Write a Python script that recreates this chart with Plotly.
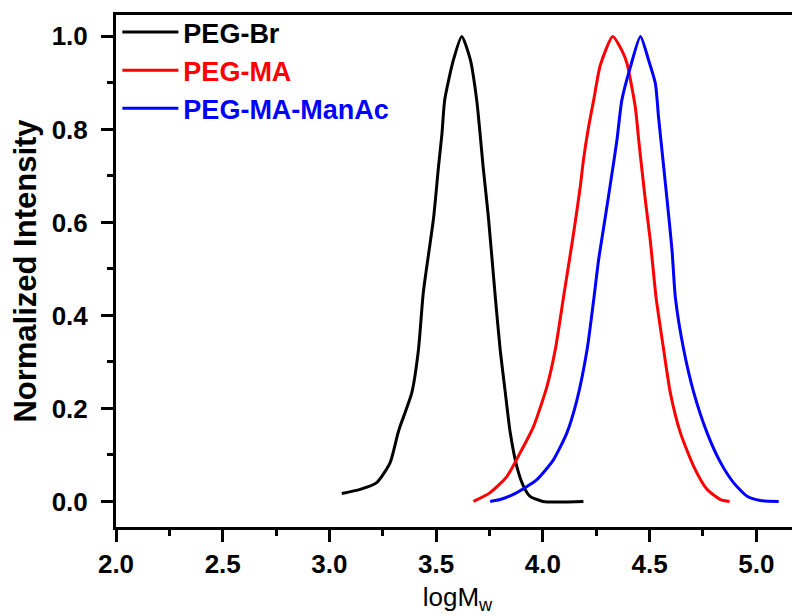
import plotly.graph_objects as go

# PEG-Br
br_x = [3.058, 3.144, 3.22, 3.284, 3.32, 3.33, 3.386, 3.417, 3.44, 3.488, 3.511, 3.527, 3.54, 3.58, 3.62,
        3.66, 3.69, 3.706, 3.72, 3.745, 3.777, 3.80, 3.824, 3.847, 3.878, 3.91, 3.94, 4.0, 4.19]
br_y = [0.017, 0.026, 0.04, 0.083, 0.145, 0.16, 0.234, 0.326, 0.45, 0.61, 0.72, 0.79, 0.863, 0.948, 1.0,
        0.95, 0.863, 0.79, 0.72, 0.61, 0.44, 0.326, 0.234, 0.148, 0.075, 0.032, 0.011, 0.0, 0.0]

# PEG-MA
ma_x = [3.675, 3.753, 3.832, 3.894, 3.956, 4.019, 4.058, 4.097, 4.144, 4.175, 4.19, 4.214, 4.238, 4.269, 4.327,
        4.37, 4.394, 4.433, 4.449, 4.48, 4.503, 4.53, 4.566, 4.597, 4.644, 4.707, 4.769, 4.832, 4.875]
ma_y = [0.0, 0.019, 0.054, 0.105, 0.161, 0.247, 0.326, 0.44, 0.577, 0.676, 0.734, 0.805, 0.863, 0.938, 1.0,
        0.97, 0.942, 0.848, 0.777, 0.648, 0.562, 0.44, 0.326, 0.234, 0.148, 0.075, 0.026, 0.004, 0.0]

# PEG-MA-ManAc
man_x = [3.753, 3.80, 3.878, 3.972, 4.05, 4.113, 4.16, 4.207, 4.238, 4.261, 4.292, 4.324, 4.347, 4.37, 4.41, 4.457,
         4.496, 4.527, 4.542, 4.558, 4.582, 4.605, 4.621, 4.66, 4.707, 4.769, 4.832, 4.894, 4.957, 5.019, 5.105]
man_y = [0.0, 0.004, 0.019, 0.047, 0.09, 0.148, 0.219, 0.326, 0.433, 0.519, 0.61, 0.706, 0.777, 0.863, 0.934, 1.0,
         0.948, 0.899, 0.826, 0.755, 0.648, 0.541, 0.437, 0.326, 0.234, 0.148, 0.084, 0.04, 0.011, 0.002, 0.0]

series = [
    ("PEG-Br", br_x, br_y, "#000000"),
    ("PEG-MA", ma_x, ma_y, "#ff0000"),
    ("PEG-MA-ManAc", man_x, man_y, "#0000ff"),
]

x_ticks = [2.0, 2.5, 3.0, 3.5, 4.0, 4.5, 5.0]
y_ticks = [0.0, 0.2, 0.4, 0.6, 0.8, 1.0]

FONT = "Liberation Sans, Arial, sans-serif"

fig = go.Figure()
for i, (name, xs, ys, col) in enumerate(series):
    fig.add_trace(go.Scatter(
        x=xs, y=ys, mode="lines", line=dict(color=col, width=3, shape="spline", smoothing=0.6),
        name=f"<span style='color:{col}'><b>{name}</b></span>",
        legendgroup=f"g{i}",
    ))

fig.update_layout(
    width=792, height=608,
    margin=dict(l=108, r=1, t=6, b=89),
    paper_bgcolor="white", plot_bgcolor="white",
    font=dict(family=FONT, color="black"),
    showlegend=True,
    legend=dict(
        x=0.002, y=1.012, xanchor="left", yanchor="top",
        bgcolor="rgba(0,0,0,0)", borderwidth=0,
        font=dict(size=27, family=FONT),
        itemwidth=56, tracegroupgap=0,
    ),
    xaxis=dict(
        range=[2.0, 5.2], tickvals=x_ticks, ticktext=[f"<b>{v:.1f}</b>" for v in x_ticks],
        showline=True, linecolor="black", linewidth=3, mirror=True,
        ticks="outside", ticklen=12, tickwidth=3, tickcolor="black",
        minor=dict(ticks="outside", ticklen=6, tickwidth=3, tickcolor="black", dtick=0.25, tick0=2.0, showgrid=False),
        showgrid=False, zeroline=False, automargin=False,
        tickfont=dict(size=26, family=FONT),
        title=dict(text="logM<sub>w</sub>", font=dict(size=26, family=FONT), standoff=10),
    ),
    yaxis=dict(
        range=[-0.055, 1.046], tickvals=y_ticks, ticktext=[f"<b>{v:.1f}</b>" for v in y_ticks],
        showline=True, linecolor="black", linewidth=3, mirror=False,
        ticks="outside", ticklen=12, tickwidth=3, tickcolor="black",
        minor=dict(ticks="outside", ticklen=6, tickwidth=3, tickcolor="black", dtick=0.1, tick0=0.0, showgrid=False),
        showgrid=False, zeroline=False, automargin=False,
        tickfont=dict(size=26, family=FONT),
        ticklabelstandoff=8,
        title=dict(text="<b>Normalized Intensity</b>", font=dict(size=31, family=FONT), standoff=12),
    ),
)

fig.write_html("out.html")
